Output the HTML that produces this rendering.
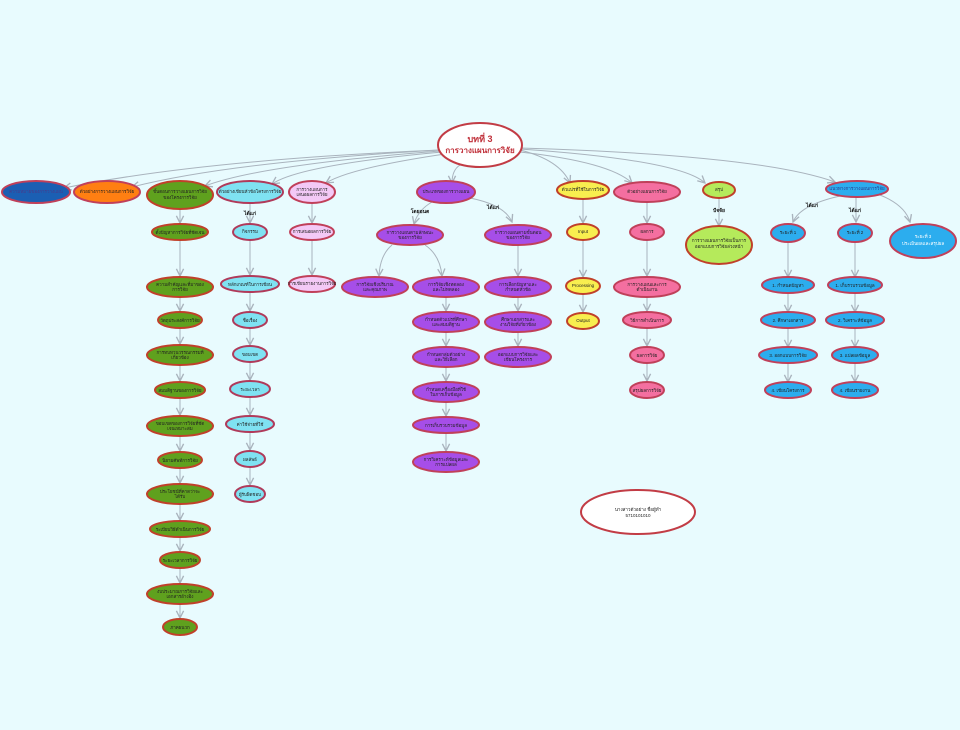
<!DOCTYPE html>
<html><head><meta charset="utf-8"><style>
html,body{margin:0;padding:0;background:#e8fbfe;}
svg{display:block}
text{font-family:"Liberation Sans","Noto Sans CJK SC",sans-serif;font-size:4.5px;text-anchor:middle;fill:#222}
.c{fill:none;stroke:#a9b3bd;stroke-width:1}
.l{font-size:5px;font-weight:bold;fill:#111}
</style></head><body>
<svg width="960" height="730" viewBox="0 0 960 730" xmlns="http://www.w3.org/2000/svg">
<defs><marker id="a" viewBox="0 0 10 10" refX="9" refY="5" markerWidth="9" markerHeight="9" orient="auto-start-reverse"><path d="M1,1 L9,5 L1,9" fill="none" stroke="#a9b3bd" stroke-width="1.5"/></marker></defs>
<rect width="960" height="730" fill="#e8fbfe"/>

<g class="c">
<path class="c" d="M440,150 Q200,160 64,188" marker-end="url(#a)"/>
<path class="c" d="M440,150 Q230,162 132,187" marker-end="url(#a)"/>
<path class="c" d="M440,151 Q260,165 205,186" marker-end="url(#a)"/>
<path class="c" d="M442,152 Q300,165 272,184" marker-end="url(#a)"/>
<path class="c" d="M445,154 Q350,168 326,183" marker-end="url(#a)"/>
<path class="c" d="M460,165 Q452,170 452,183" marker-end="url(#a)"/>
<path class="c" d="M520,150 Q560,160 570,183" marker-end="url(#a)"/>
<path class="c" d="M520,152 Q610,162 632,183" marker-end="url(#a)"/>
<path class="c" d="M520,149 Q680,160 705,183" marker-end="url(#a)"/>
<path class="c" d="M520,148 Q760,155 835,182" marker-end="url(#a)"/>
<path class="c" d="M180,209 V223" marker-end="url(#a)"/>
<path class="c" d="M180,240 V276" marker-end="url(#a)"/>
<path class="c" d="M180,297 V311" marker-end="url(#a)"/>
<path class="c" d="M180,328 V344" marker-end="url(#a)"/>
<path class="c" d="M180,365 V381" marker-end="url(#a)"/>
<path class="c" d="M180,398 V415" marker-end="url(#a)"/>
<path class="c" d="M180,436 V451" marker-end="url(#a)"/>
<path class="c" d="M180,468 V483" marker-end="url(#a)"/>
<path class="c" d="M180,504 V520" marker-end="url(#a)"/>
<path class="c" d="M180,537 V551" marker-end="url(#a)"/>
<path class="c" d="M180,568 V583" marker-end="url(#a)"/>
<path class="c" d="M180,604 V618" marker-end="url(#a)"/>
<path class="c" d="M250,203 V223" marker-end="url(#a)"/>
<path class="c" d="M250,240 V275" marker-end="url(#a)"/>
<path class="c" d="M250,292 V311" marker-end="url(#a)"/>
<path class="c" d="M250,328 V345" marker-end="url(#a)"/>
<path class="c" d="M250,362 V380" marker-end="url(#a)"/>
<path class="c" d="M250,397 V415" marker-end="url(#a)"/>
<path class="c" d="M250,432 V450" marker-end="url(#a)"/>
<path class="c" d="M250,467 V485" marker-end="url(#a)"/>
<path class="c" d="M312,203 V223" marker-end="url(#a)"/>
<path class="c" d="M312,240 V275" marker-end="url(#a)"/>
<path class="c" d="M432,202 Q418,210 414,224" marker-end="url(#a)"/>
<path class="c" d="M470,198 Q505,205 512,222" marker-end="url(#a)"/>
<path class="c" d="M392,245 Q380,255 379,276" marker-end="url(#a)"/>
<path class="c" d="M425,245 Q440,255 442,276" marker-end="url(#a)"/>
<path class="c" d="M446,297 V311" marker-end="url(#a)"/>
<path class="c" d="M446,332 V346" marker-end="url(#a)"/>
<path class="c" d="M446,367 V381" marker-end="url(#a)"/>
<path class="c" d="M446,402 V416" marker-end="url(#a)"/>
<path class="c" d="M446,433 V451" marker-end="url(#a)"/>
<path class="c" d="M518,245 V276" marker-end="url(#a)"/>
<path class="c" d="M518,297 V311" marker-end="url(#a)"/>
<path class="c" d="M518,332 V346" marker-end="url(#a)"/>
<path class="c" d="M583,199 V223" marker-end="url(#a)"/>
<path class="c" d="M583,240 V277" marker-end="url(#a)"/>
<path class="c" d="M583,294 V312" marker-end="url(#a)"/>
<path class="c" d="M647,202 V223" marker-end="url(#a)"/>
<path class="c" d="M647,240 V276" marker-end="url(#a)"/>
<path class="c" d="M647,297 V311" marker-end="url(#a)"/>
<path class="c" d="M647,328 V346" marker-end="url(#a)"/>
<path class="c" d="M647,363 V381" marker-end="url(#a)"/>
<path class="c" d="M719,198 V226" marker-end="url(#a)"/>
<path class="c" d="M840,196 Q800,205 793,222" marker-end="url(#a)"/>
<path class="c" d="M856,197 V222" marker-end="url(#a)"/>
<path class="c" d="M880,195 Q905,205 910,222" marker-end="url(#a)"/>
<path class="c" d="M788,243 V277" marker-end="url(#a)"/>
<path class="c" d="M788,294 V312" marker-end="url(#a)"/>
<path class="c" d="M788,328 V347" marker-end="url(#a)"/>
<path class="c" d="M788,363 V382" marker-end="url(#a)"/>
<path class="c" d="M855,243 V277" marker-end="url(#a)"/>
<path class="c" d="M855,293 V312" marker-end="url(#a)"/>
<path class="c" d="M855,328 V347" marker-end="url(#a)"/>
<path class="c" d="M855,363 V382" marker-end="url(#a)"/>
</g>

<g stroke-width="2">
<ellipse cx="480" cy="145" rx="42" ry="22" fill="#fff" stroke="#c23c45"/>
<ellipse cx="36" cy="192" rx="34" ry="11" fill="#1b5fb3" stroke="#c0405a"/>
<ellipse cx="107" cy="192" rx="33" ry="11" fill="#ff7f12" stroke="#c0405a"/>
<ellipse cx="180" cy="195" rx="33" ry="14" fill="#5fa11e" stroke="#c0402a"/>
<ellipse cx="250" cy="192" rx="33" ry="11" fill="#7fe2f2" stroke="#b03a5a"/>
<ellipse cx="312" cy="192" rx="23" ry="11" fill="#f3c9f6" stroke="#c0405a"/>
<ellipse cx="446" cy="192" rx="29" ry="11" fill="#a64ee8" stroke="#c0405a"/>
<ellipse cx="583" cy="190" rx="26" ry="9" fill="#f8ee4f" stroke="#c0402a"/>
<ellipse cx="647" cy="192" rx="33" ry="10" fill="#f46fa0" stroke="#c0405a"/>
<ellipse cx="719" cy="190" rx="16" ry="8" fill="#b5ea5b" stroke="#c0402a"/>
<ellipse cx="857" cy="189" rx="31" ry="8" fill="#2cadee" stroke="#c0405a"/>
<g fill="#5fa11e" stroke="#c0402a">
<ellipse cx="180" cy="232" rx="28" ry="8"/>
<ellipse cx="180" cy="287" rx="33" ry="10"/>
<ellipse cx="180" cy="320" rx="22" ry="8"/>
<ellipse cx="180" cy="355" rx="33" ry="10"/>
<ellipse cx="180" cy="390" rx="25" ry="8"/>
<ellipse cx="180" cy="426" rx="33" ry="10"/>
<ellipse cx="180" cy="460" rx="22" ry="8"/>
<ellipse cx="180" cy="494" rx="33" ry="10"/>
<ellipse cx="180" cy="529" rx="30" ry="8"/>
<ellipse cx="180" cy="560" rx="20" ry="8"/>
<ellipse cx="180" cy="594" rx="33" ry="10"/>
<ellipse cx="180" cy="627" rx="17" ry="8"/>
</g>
<g fill="#7fe2f2" stroke="#b03a5a">
<ellipse cx="250" cy="232" rx="17" ry="8"/>
<ellipse cx="250" cy="284" rx="29" ry="8"/>
<ellipse cx="250" cy="320" rx="17" ry="8"/>
<ellipse cx="250" cy="354" rx="17" ry="8"/>
<ellipse cx="250" cy="389" rx="20" ry="8"/>
<ellipse cx="250" cy="424" rx="24" ry="8"/>
<ellipse cx="250" cy="459" rx="15" ry="8"/>
<ellipse cx="250" cy="494" rx="15" ry="8"/>
</g>
<g fill="#f3c9f6" stroke="#c0405a">
<ellipse cx="312" cy="232" rx="22" ry="8"/>
<ellipse cx="312" cy="284" rx="23" ry="8"/>
</g>
<g fill="#a64ee8" stroke="#c0405a">
<ellipse cx="410" cy="235" rx="33" ry="10"/>
<ellipse cx="518" cy="235" rx="33" ry="10"/>
<ellipse cx="375" cy="287" rx="33" ry="10"/>
<ellipse cx="446" cy="287" rx="33" ry="10"/>
<ellipse cx="446" cy="322" rx="33" ry="10"/>
<ellipse cx="446" cy="357" rx="33" ry="10"/>
<ellipse cx="446" cy="392" rx="33" ry="10"/>
<ellipse cx="446" cy="425" rx="33" ry="8"/>
<ellipse cx="446" cy="462" rx="33" ry="10"/>
<ellipse cx="518" cy="287" rx="33" ry="10"/>
<ellipse cx="518" cy="322" rx="33" ry="10"/>
<ellipse cx="518" cy="357" rx="33" ry="10"/>
</g>
<g fill="#f8ee4f" stroke="#c0402a">
<ellipse cx="583" cy="232" rx="16" ry="8"/>
<ellipse cx="583" cy="286" rx="17" ry="8"/>
<ellipse cx="583" cy="321" rx="16" ry="8"/>
</g>
<g fill="#f46fa0" stroke="#c0405a">
<ellipse cx="647" cy="232" rx="17" ry="8"/>
<ellipse cx="647" cy="287" rx="33" ry="10"/>
<ellipse cx="647" cy="320" rx="24" ry="8"/>
<ellipse cx="647" cy="355" rx="17" ry="8"/>
<ellipse cx="647" cy="390" rx="17" ry="8"/>
</g>
<ellipse cx="719" cy="245" rx="33" ry="19" fill="#b5ea5b" stroke="#c0402a"/>
<g fill="#2cadee" stroke="#c0405a">
<ellipse cx="788" cy="233" rx="17" ry="9"/>
<ellipse cx="855" cy="233" rx="17" ry="9"/>
<ellipse cx="923" cy="241" rx="33" ry="17"/>
<ellipse cx="788" cy="285" rx="26" ry="8"/>
<ellipse cx="788" cy="320" rx="27" ry="8"/>
<ellipse cx="788" cy="355" rx="29" ry="8"/>
<ellipse cx="788" cy="390" rx="23" ry="8"/>
<ellipse cx="855" cy="285" rx="27" ry="8"/>
<ellipse cx="855" cy="320" rx="29" ry="8"/>
<ellipse cx="855" cy="355" rx="23" ry="8"/>
<ellipse cx="855" cy="390" rx="23" ry="8"/>
</g>
<ellipse cx="638" cy="512" rx="57" ry="22" fill="#fff" stroke="#c23c45"/>
</g>

<text x="480" y="142" style="font-size:9px;font-weight:bold;fill:#c0303a">บทที่ 3</text>
<text x="480" y="153" style="font-size:8px;font-weight:bold;fill:#c0303a">การวางแผนการวิจัย</text>
<text x="36" y="193" style="fill:#4a3a8a">ความหมายของการวางแผน</text>
<text x="107" y="193">ตัวอย่างการวางแผนการวิจัย</text>
<text x="180" y="193">ขั้นตอนการวางแผนการวิจัย</text>
<text x="180" y="199">ของโครงการวิจัย</text>
<text x="250" y="193">ตัวอย่างเขียนหัวข้อโครงการวิจัย</text>
<text x="312" y="191">การวางแผนการ</text><text x="312" y="196">เสนอผลการวิจัย</text>
<text x="446" y="193">ประเภทของการวางแผน</text>
<text x="583" y="191">ตัวแปรที่ใช้ในการวิจัย</text>
<text x="647" y="193">ตัวอย่างแผนการวิจัย</text>
<text x="719" y="191">สรุป</text>
<text x="857" y="190" style="fill:#2a3a8a">แนวทางการวางแผนการวิจัย</text>

<text x="180" y="234">ตั้งปัญหาการวิจัยที่ชัดเจน</text>
<text x="180" y="286">ความสำคัญและที่มาของ</text><text x="180" y="291">การวิจัย</text>
<text x="180" y="322">วัตถุประสงค์การวิจัย</text>
<text x="180" y="354">การทบทวนวรรณกรรมที่</text><text x="180" y="359">เกี่ยวข้อง</text>
<text x="180" y="392">สมมติฐานของการวิจัย</text>
<text x="180" y="425">ขอบเขตของการวิจัยที่ชัด</text><text x="180" y="430">เจนเหมาะสม</text>
<text x="180" y="462">นิยามศัพท์การวิจัย</text>
<text x="180" y="493">ประโยชน์ที่คาดว่าจะ</text><text x="180" y="498">ได้รับ</text>
<text x="180" y="531">ระเบียบวิธีดำเนินการวิจัย</text>
<text x="180" y="562">ระยะเวลาการวิจัย</text>
<text x="180" y="593">งบประมาณการวิจัยและ</text><text x="180" y="598">เอกสารอ้างอิง</text>
<text x="180" y="629">ภาคผนวก</text>

<text x="250" y="233">กิจกรรม</text>
<text x="250" y="286">หลักเกณฑ์ในการเขียน</text>
<text x="250" y="322">ชื่อเรื่อง</text>
<text x="250" y="356">ขอบเขต</text>
<text x="250" y="391">ระยะเวลา</text>
<text x="250" y="426">ค่าใช้จ่ายที่ใช้</text>
<text x="250" y="461">ผลลัพธ์</text>
<text x="250" y="496">ผู้รับผิดชอบ</text>

<text x="312" y="233">การเสนอผลการวิจัย</text>
<text x="312" y="285">การเขียนรายงานการวิจัย</text>

<text x="410" y="234">การวางแผนตามลักษณะ</text><text x="410" y="239">ของการวิจัย</text>
<text x="518" y="234">การวางแผนตามขั้นตอน</text><text x="518" y="239">ของการวิจัย</text>
<text x="375" y="286">การวิจัยเชิงปริมาณ</text><text x="375" y="291">และคุณภาพ</text>
<text x="446" y="286">การวิจัยเชิงทดลอง</text><text x="446" y="291">และไม่ทดลอง</text>
<text x="446" y="321">กำหนดตัวแปรที่ศึกษา</text><text x="446" y="326">และสมมติฐาน</text>
<text x="446" y="356">กำหนดกลุ่มตัวอย่าง</text><text x="446" y="361">และวิธีเลือก</text>
<text x="446" y="391">กำหนดเครื่องมือที่ใช้</text><text x="446" y="396">ในการเก็บข้อมูล</text>
<text x="446" y="427">การเก็บรวบรวมข้อมูล</text>
<text x="446" y="461">การวิเคราะห์ข้อมูลและ</text><text x="446" y="466">การแปลผล</text>
<text x="518" y="286">การเลือกปัญหาและ</text><text x="518" y="291">กำหนดหัวข้อ</text>
<text x="518" y="321">ศึกษาเอกสารและ</text><text x="518" y="326">งานวิจัยที่เกี่ยวข้อง</text>
<text x="518" y="356">ออกแบบการวิจัยและ</text><text x="518" y="361">เขียนโครงการ</text>

<text x="583" y="233">Input</text>
<text x="583" y="287">Processing</text>
<text x="583" y="322">Output</text>

<text x="647" y="233">ผลการ</text>
<text x="647" y="286">การวางแผนและการ</text><text x="647" y="291">ดำเนินงาน</text>
<text x="647" y="322">วิธีการดำเนินการ</text>
<text x="647" y="357">ผลการวิจัย</text>
<text x="647" y="392">สรุปผลการวิจัย</text>

<text x="719" y="242">การวางแผนการวิจัยเป็นการ</text>
<text x="719" y="248">ออกแบบการวิจัยล่วงหน้า</text>

<text x="788" y="234">ระยะที่ 1</text>
<text x="855" y="234">ระยะที่ 2</text>
<text x="923" y="238" style="fill:#fff">ระยะที่ 3</text>
<text x="923" y="245" style="fill:#fff">ประเมินผลและสรุปผล</text>
<text x="788" y="287">1. กำหนดปัญหา</text>
<text x="788" y="322">2. ศึกษาเอกสาร</text>
<text x="788" y="357">3. ออกแบบการวิจัย</text>
<text x="788" y="392">4. เขียนโครงการ</text>
<text x="855" y="287">1. เก็บรวบรวมข้อมูล</text>
<text x="855" y="322">2. วิเคราะห์ข้อมูล</text>
<text x="855" y="357">3. แปลผลข้อมูล</text>
<text x="855" y="392">4. เขียนรายงาน</text>

<text x="638" y="511">นางสาวตัวอย่าง ชื่อผู้ทำ</text>
<text x="638" y="517">5710101010</text>
<text class="l" x="250" y="215">ได้แก่</text>
<text class="l" x="420" y="213">โดยอนต</text>
<text class="l" x="493" y="209">ได้แก่</text>
<text class="l" x="719" y="212">ปัจจัย</text>
<text class="l" x="812" y="207">ได้แก่</text>
<text class="l" x="855" y="212">ได้แก่</text>
</svg>
</body></html>
